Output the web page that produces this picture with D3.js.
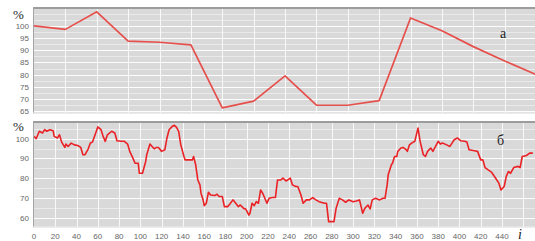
<!DOCTYPE html>
<html>
<head>
<meta charset="utf-8">
<script src="https://cdn.jsdelivr.net/npm/d3@7"></script>
<style>
  body { margin: 0; background: #fff; }
  svg { display: block; }
  .tick-label { font-family: "Liberation Sans", Arial, sans-serif; font-size: 8px; fill: #666; }
  .serif { font-family: "Liberation Serif", "DejaVu Serif", serif; fill: #222; }
</style>
</head>
<body>
<svg class="mySVG" width="535" height="241"></svg>
<script>
var width = 535, height = 241;

// panel a: sampled roughly every 29.5 steps
var topI = [0, 29.5, 59, 88.5, 118, 147.5, 177, 206.5, 236, 265.5, 295, 324.5, 354, 383.5, 413, 442.5, 472];
var topVal = [100, 98.6, 105.8, 93.8, 93.3, 92.2, 66.3, 69.1, 79.5, 67.4, 67.4, 69.3, 103.3, 98, 91.5, 85.6, 80];
var topTicks = [65, 70, 75, 80, 85, 90, 95, 100];

// panel б
var botI = [0, 2, 5, 8, 10, 12, 15, 18, 19, 22, 24, 26, 29, 30, 32, 35, 38, 41, 44, 46, 48, 51, 53, 55, 58, 60, 63, 65, 67, 69,
  73, 76, 78, 82, 85, 88, 90, 93, 95, 98, 99, 102, 105, 106, 109, 111, 113, 115, 117, 120, 123, 125, 127, 130, 132, 134, 136, 138,
  141, 142, 146, 149, 150, 152, 154, 156, 157, 159, 160, 162, 164, 166, 170, 172, 174, 177, 179, 182, 184, 187, 188, 192, 194, 197,
  199, 202, 203, 205, 207, 209, 211, 213, 215, 217, 219, 221, 224, 227, 228, 229, 232, 234, 237, 241, 243, 246, 248, 251, 253, 256,
  259, 262, 265, 268, 273, 275, 277, 282, 284, 287, 290, 293, 296, 300, 303, 306, 309, 311, 314, 316, 318, 321, 325, 328, 330, 332,
  333, 336, 337, 339, 341, 342, 345, 347, 350, 351, 353, 355, 358, 361, 363, 366, 368, 370, 373, 375, 377, 380, 382, 384, 388, 391,
  393, 395, 398, 401, 405, 407, 409, 414, 417, 420, 422, 424, 427, 430, 434, 437, 439, 442, 444, 446, 448, 451, 455, 457, 459, 463,
  466, 469];
var botVal = [101.2, 100, 103.8, 102.9, 104.6, 103.8, 104.6, 104, 101.2, 100.4, 102, 98.3, 95.6, 97.3, 96.1, 97.8, 96.9, 96.6, 95.6, 91.9,
  91.9, 94.9, 97.8, 98.3, 102.9, 106, 104.6, 101.2, 98.7, 102, 103.8, 102.9, 99, 98.7, 98.7, 97.3, 93.6, 90.2, 87.6, 87.6, 82.5, 82.5,
  88.5, 91.9, 97.3, 96.1, 94.9, 95.6, 95.6, 93.6, 94.4, 100.4, 104.6, 106.3, 106.8, 105.8, 103.8, 96.9, 91, 89.3, 89.3, 89.3, 91, 86.8,
  79.1, 76.6, 72.4, 69, 66.1, 67.3, 72.9, 71.5, 71.2, 71.9, 70.7, 70.7, 65.6, 65.6, 66.8, 69, 68.4, 65.6, 66.4, 64.7, 64.4, 61.3, 62.2,
  67.3, 66.1, 68.1, 67.3, 74, 72.4, 69.8, 67.3, 69.8, 70.2, 70.2, 75, 79.1, 79.1, 80, 78.6, 80, 76.6, 75.8, 75.8, 71.5, 67.3, 69, 69,
  70.2, 69, 68.1, 67.3, 67.3, 58, 58, 64.7, 69.8, 69, 67.8, 69, 68.1, 68.4, 69, 62.2, 64.7, 66.4, 64.4, 69, 69.8, 69, 69.8, 69.8, 76.6,
  81.7, 86.8, 87.6, 91, 91, 93.6, 95.3, 95.6, 94.4, 93.6, 96.9, 97.8, 98.7, 105.4, 98.7, 91.9, 91, 93.6, 95.3, 93.6, 95.6, 98.7, 97.3,
  97.8, 96.9, 96.1, 97.8, 99.5, 100.4, 99, 98.7, 98.3, 94.4, 93.9, 93.6, 89.3, 89.3, 85.4, 84.2, 83.1, 80, 77.5, 74, 75.8, 80.9, 83.4,
  82.5, 85.4, 86, 85.4, 91, 91.5, 92.7, 92.7];
var botTicks = [60, 70, 80, 90, 100];
var xTicks = d3.range(0, 441, 20);

var left = 33, right = 535;
var x = d3.scaleLinear().domain([0, 471]).range([34, 535]);

var yTop = d3.scaleLinear().domain([64, 107.8]).range([113.5, 7]);
var yBot = d3.scaleLinear().domain([55, 109]).range([227.5, 121]);

const svg = d3.select('.mySVG');

function panel(y, ticks, minorStep, vTicks, name, yr, pctY) {
    const g = svg.append("g");
    const y0 = yr[1], y1 = yr[0];
    g.append("rect")
        .attr("x", left).attr("y", y0)
        .attr("width", right - left).attr("height", y1 - y0)
        .attr("fill", "#d9d9d9");
    // minor grid
    g.append("g").selectAll("line")
        .data(d3.range(y.domain()[0] - y.domain()[0] % minorStep + minorStep, y.domain()[1], minorStep))
        .join("line")
            .attr("x1", left).attr("x2", right)
            .attr("y1", d => Math.round(y(d)) + 0.5).attr("y2", d => Math.round(y(d)) + 0.5)
            .attr("stroke", "#fff").attr("stroke-opacity", 0.45);
    g.append("g").selectAll("line")
        .data(ticks)
        .join("line")
            .attr("x1", left).attr("x2", right)
            .attr("y1", d => Math.round(y(d)) + 0.5).attr("y2", d => Math.round(y(d)) + 0.5)
            .attr("stroke", "#fff").attr("stroke-opacity", 0.9);
    g.append("g").selectAll("line")
        .data(vTicks)
        .join("line")
            .attr("x1", d => Math.round(x(d)) + 0.5).attr("x2", d => Math.round(x(d)) + 0.5)
            .attr("y1", y0).attr("y2", y1)
            .attr("stroke", "#fff").attr("stroke-opacity", 0.8);
    // frame: darker top and left edge
    g.append("line").attr("x1", left).attr("x2", right).attr("y1", y0 + 1).attr("y2", y0 + 1)
        .attr("stroke", "#9c9c9c").attr("stroke-width", 2);
    g.append("line").attr("x1", left + 0.5).attr("x2", left + 0.5).attr("y1", y0).attr("y2", y1)
        .attr("stroke", "#a4a4a4");
    g.append("line").attr("x1", left).attr("x2", right).attr("y1", y1 - 0.5).attr("y2", y1 - 0.5)
        .attr("stroke", "#ececec");
    // y labels
    g.append("g").selectAll("text")
        .data(ticks)
        .join("text")
            .attr("class", "tick-label")
            .attr("x", 29).attr("y", d => y(d) + 3)
            .attr("text-anchor", "end")
            .text(d => d);
    g.append("text").attr("class", "serif")
        .attr("x", 13).attr("y", pctY)
        .style("font-size", "13px")
        .text("%");
    g.append("defs").append("clipPath").attr("id", "clip-" + name)
        .append("rect").attr("x", left + 1).attr("y", y0 + 2).attr("width", right - left).attr("height", y1 - y0 - 2);
    return g;
}

const gTop = panel(yTop, topTicks, 2.5, topI.slice(1, -1), "a", yTop.range(), 19);
const gBot = panel(yBot, botTicks, 5, d3.range(20, 461, 20), "b", yBot.range(), 131);

const lineTop = d3.line().x(d => x(d[0])).y(d => yTop(d[1]));
const lineBot = d3.line().x(d => x(d[0])).y(d => yBot(d[1]));

gTop.append("path")
    .datum(d3.zip(topI, topVal))
    .attr("clip-path", "url(#clip-a)")
    .attr("d", lineTop)
    .attr("fill", "none")
    .attr("stroke", "#e6504c")
    .attr("stroke-width", 1.7)
    .attr("stroke-linejoin", "round");

gBot.append("path")
    .datum(d3.zip(botI, botVal))
    .attr("clip-path", "url(#clip-b)")
    .attr("d", lineBot)
    .attr("fill", "none")
    .attr("stroke", "#ea2226")
    .attr("stroke-width", 1.6)
    .attr("stroke-linejoin", "round");

// x labels
svg.append("g").selectAll("text")
    .data(xTicks)
    .join("text")
        .attr("class", "tick-label")
        .attr("x", d => x(d)).attr("y", 239)
        .attr("text-anchor", "middle")
        .text(d => d);

svg.append("text").attr("class", "serif")
    .attr("x", 500).attr("y", 38).style("font-size", "14px").text("а");
svg.append("text").attr("class", "serif")
    .attr("x", 497).attr("y", 145).style("font-size", "14px").text("б");
svg.append("text").attr("class", "serif")
    .attr("x", 518).attr("y", 239).style("font-size", "14px").style("font-style", "italic").text("i");
</script>
</body>
</html>
